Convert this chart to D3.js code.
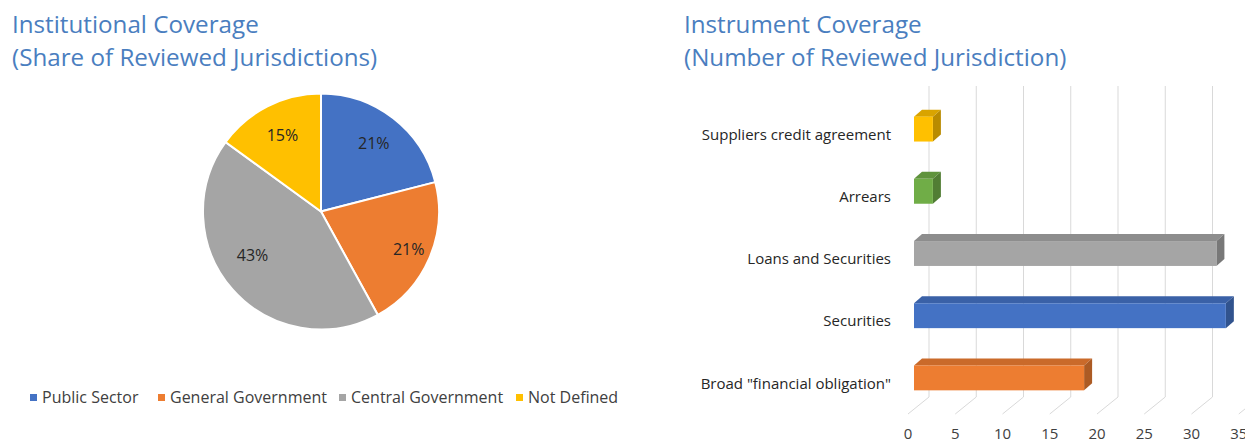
<!DOCTYPE html>
<html><head><meta charset="utf-8">
<script src="https://cdn.jsdelivr.net/npm/d3@7"></script>
<style>
html,body{margin:0;padding:0;background:#fff;}
svg{display:block;font-family:"Open Sans","Noto Sans",sans-serif;}
</style></head>
<body>
<svg id="c" width="1245" height="443"></svg>
<script>
// ---- Data ----
const pieCategories = ["Public Sector", "General Government", "Central Government", "Not Defined"];
const pieValues = [21, 21, 43, 15];
const pieColors = ["#4472C4", "#ED7D31", "#A5A5A5", "#FFC000"];

const barCategories = ["Suppliers credit agreement", "Arrears", "Loans and Securities", "Securities", "Broad \"financial obligation\""];
const barValues = [2, 2, 32, 33, 18];
const barColors = ["#FFC000", "#70AD47", "#A5A5A5", "#4472C4", "#ED7D31"];
const xTicks = [0, 5, 10, 15, 20, 25, 30, 35];

const leftTitle = ["Institutional Coverage", "(Share of Reviewed Jurisdictions)"];
const rightTitle = ["Instrument Coverage", "(Number of Reviewed Jurisdiction)"];

// label placement (best-fit style, as in the reference)
const labelRadius = [0.73, 0.81, 0.69, 0.72];
const labelAngleShift = [0, 0, 0.15, 0];

const svg = d3.select("#c");
const titleColor = "#4a7ebf";

// ---- Titles ----
function title(lines, x) {
  svg.append("text").attr("x", x).attr("y", 33).attr("fill", titleColor)
    .attr("font-size", 24.2).text(lines[0]);
  svg.append("text").attr("x", x).attr("y", 66).attr("fill", titleColor)
    .attr("font-size", 24.2).text(lines[1]);
}
title(leftTitle, 12);
title(rightTitle, 684);

// ---- Pie ----
const cx = 321, cy = 211.5, r = 118;
const pie = d3.pie().sort(null).value(d => d)(pieValues);
const arc = d3.arc().innerRadius(0).outerRadius(r);
const pg = svg.append("g").attr("transform", `translate(${cx},${cy})`);
pg.selectAll("path").data(pie).join("path")
  .attr("d", arc).attr("fill", (d, i) => pieColors[i])
  .attr("stroke", "#fff").attr("stroke-width", 2);
pg.selectAll("text").data(pie).join("text")
  .attr("transform", (d, i) => {
    const a = (d.startAngle + d.endAngle) / 2 + labelAngleShift[i];
    const rr = r * labelRadius[i];
    return `translate(${rr * Math.sin(a)},${-rr * Math.cos(a)})`;
  })
  .attr("text-anchor", "middle").attr("dy", "0.35em")
  .attr("font-size", 16).attr("fill", "#262626")
  .text(d => d.data + "%");

// ---- Legend ----
const legendX = [30, 158, 339, 516];
const lg = svg.append("g");
pieCategories.forEach((c, i) => {
  lg.append("rect").attr("x", legendX[i]).attr("y", 394).attr("width", 7).attr("height", 7)
    .attr("fill", pieColors[i]);
  lg.append("text").attr("x", legendX[i] + 12).attr("y", 397).attr("dy", "0.35em")
    .attr("font-size", 16).attr("fill", "#404040").text(c);
});

// ---- 3D bar chart ----
const x = d3.scaleLinear().domain([0, 35]).range([0, 35 * 9.45]);
const frontX = 908, backX = 929, barX = 914;
const backBottom = 397, frontBottom = 414, gridTop = 86;
const y = d3.scaleBand().domain(barCategories).range([98, 409]).paddingInner(0.6).paddingOuter(0.3);
const dx = 8, dy = 7;

const bg = svg.append("g");
// back-wall gridlines
bg.selectAll("line.grid").data(xTicks).join("line").attr("class", "grid")
  .attr("x1", d => backX + x(d)).attr("x2", d => backX + x(d))
  .attr("y1", gridTop).attr("y2", backBottom)
  .attr("stroke", "#d9d9d9").attr("stroke-width", 1);
// floor lines
bg.selectAll("line.floor").data(xTicks).join("line").attr("class", "floor")
  .attr("x1", d => backX + x(d)).attr("x2", d => frontX + x(d))
  .attr("y1", backBottom).attr("y2", frontBottom)
  .attr("stroke", "#d9d9d9").attr("stroke-width", 1);
// tick labels
bg.selectAll("text.tick").data(xTicks).join("text").attr("class", "tick")
  .attr("x", d => frontX + x(d)).attr("y", 439)
  .attr("text-anchor", "middle").attr("font-size", 15).attr("fill", "#404040")
  .text(d => d);
// category labels
bg.selectAll("text.cat").data(barCategories).join("text").attr("class", "cat")
  .attr("x", 891).attr("y", d => y(d) + y.bandwidth() / 2 + 5.5).attr("dy", "0.35em")
  .attr("text-anchor", "end").attr("font-size", 15).attr("fill", "#262626")
  .text(d => d);

// bars
const bars = bg.selectAll("g.bar").data(barCategories).join("g").attr("class", "bar");
bars.each(function (c, i) {
  const g = d3.select(this);
  const x0 = barX, x1 = barX + x(barValues[i]);
  const y0 = y(c), h = y.bandwidth();
  const col = d3.color(barColors[i]);
  // top face
  g.append("path")
    .attr("d", `M${x0},${y0}L${x0 + dx},${y0 - dy}L${x1 + dx},${y0 - dy}L${x1},${y0}Z`)
    .attr("fill", col.darker(0.45));
  // side face
  g.append("path")
    .attr("d", `M${x1},${y0}L${x1 + dx},${y0 - dy}L${x1 + dx},${y0 + h - dy}L${x1},${y0 + h}Z`)
    .attr("fill", col.darker(0.9));
  // front face
  g.append("rect").attr("x", x0).attr("y", y0).attr("width", x1 - x0).attr("height", h)
    .attr("fill", col);
});
</script>
</body></html>
